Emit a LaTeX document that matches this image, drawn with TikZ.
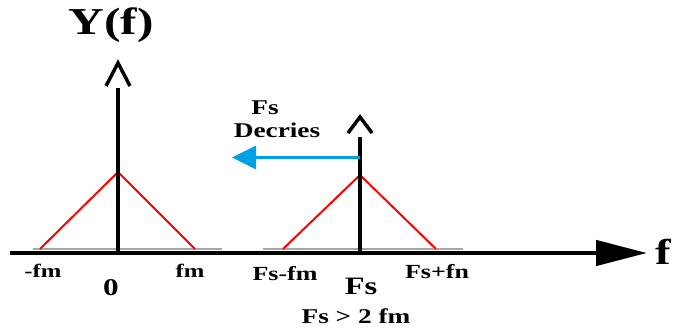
\documentclass[tikz,border=0pt]{standalone}
\usepackage{fontspec}
\setmainfont{Liberation Serif}[FakeStretch=1.3]
\usetikzlibrary{arrows.meta}
\definecolor{skyblue}{RGB}{0,160,230}
\newcommand\lblsize[1]{\fontsize{#1}{#1}\selectfont\bfseries}
\tikzset{
  axis/.style    ={line width=4.5pt,-{Triangle[length=51pt,width=25pt]}},
  stem/.style    ={line width=4pt},
  hat/.style     ={line width=3.5pt,line join=miter},
  spec/.style    ={red,line width=2pt},
  base/.style    ={black!35,line width=1.5pt},
  moveleft/.style={skyblue,line width=3.5pt,-{Triangle[length=24pt,width=23pt]}},
  lbl/.style     ={inner sep=0pt,font=\lblsize{19}},
}

\begin{document}
\begin{tikzpicture}[x=1pt,y=-1pt]
  \useasboundingbox (0,0) rectangle (688,331);

  % baseband spectrum
  \coordinate (lo)   at (10,253);
  \coordinate (hi)   at (647,253);
  \coordinate (ltop) at (118,88);
  \coordinate (lbot) at (118,253);
  \coordinate (lpk)  at (118,172);
  \coordinate (lneg) at (40,249);
  \coordinate (lpos) at (195,249);
  \coordinate (lhat) at (118,63);

  % shifted spectrum
  \coordinate (rtop) at (360,137);
  \coordinate (rbot) at (360,253);
  \coordinate (rpk)  at (360,175);
  \coordinate (rneg) at (283,249);
  \coordinate (rpos) at (436,249);
  \coordinate (rhat) at (360,117);
  \coordinate (rmid) at (360,157.5);
  \coordinate (lft)  at (232,157.5);

  \draw[base] (33,249) -- (222,249);
  \draw[base] (263,249) -- (463,249);

  \draw[spec] (lneg) -- (lpk) -- (lpos);
  \draw[spec] (rneg) -- (rpk) -- (rpos);

  \draw[axis] (lo) -- (hi);
  \draw[stem] (ltop) -- (lbot);
  \draw[stem] (rtop) -- (rbot);

  \draw[hat] ([shift={(-12,23)}]lhat) -- (lhat) -- ([shift={(12,23)}]lhat);
  \draw[hat] ([shift={(-12,16)}]rhat) -- (rhat) -- ([shift={(12,16)}]rhat);

  \draw[moveleft] (rmid) -- (lft);

  % labels
  \node[lbl,font=\lblsize{38}] (yf)  at (111,25)  {Y(f)};
  \node[lbl,font=\lblsize{36}] (fax) at (663,252) {f};
  \node[lbl,font=\lblsize{19}] (nfm) at (43,271)  {-fm};
  \node[lbl,font=\lblsize{19}] (pfm) at (190,271) {fm};
  \node[lbl,font=\lblsize{24}] (zero) at (111,288) {0};
  \node[lbl,font=\lblsize{20}] (sfm) at (285,274) {Fs-fm};
  \node[lbl,font=\lblsize{25}] (fs)  at (361,286) {Fs};
  \node[lbl,font=\lblsize{20}] (sfn) at (437,272) {Fs+fn};
  \node[lbl,font=\lblsize{21}] (cond) at (356,316) {Fs > 2 fm};
  \node[lbl,font=\lblsize{21}] (dfs) at (265,108) {Fs};
  \node[lbl,font=\lblsize{21}] (dec) at (277,130) {Decries};
\end{tikzpicture}
\end{document}
